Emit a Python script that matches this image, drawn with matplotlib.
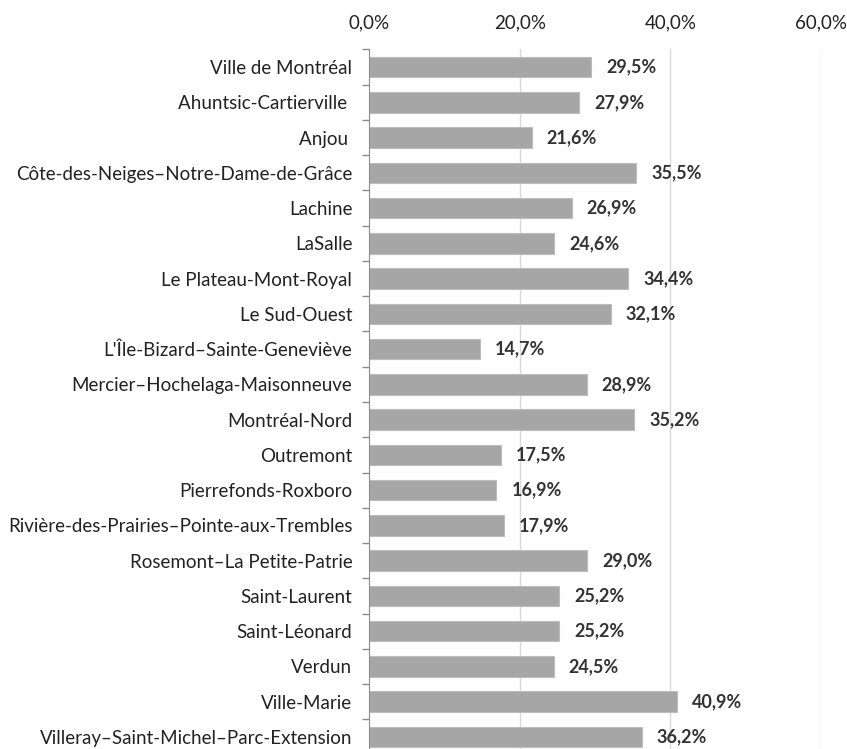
import matplotlib
matplotlib.use("Agg")
import matplotlib.pyplot as plt
from matplotlib.ticker import FuncFormatter, FixedLocator

# donnees
arrondissements = [
    "Ville de Montréal", "Ahuntsic-Cartierville ", "Anjou ",
    "Côte-des-Neiges–Notre-Dame-de-Grâce", "Lachine", "LaSalle",
    "Le Plateau-Mont-Royal", "Le Sud-Ouest", "L'Île-Bizard–Sainte-Geneviève",
    "Mercier–Hochelaga-Maisonneuve", "Montréal-Nord", "Outremont",
    "Pierrefonds-Roxboro", "Rivière-des-Prairies–Pointe-aux-Trembles",
    "Rosemont–La Petite-Patrie", "Saint-Laurent", "Saint-Léonard", "Verdun",
    "Ville-Marie", "Villeray–Saint-Michel–Parc-Extension",
]
pourcentages = [29.5, 27.9, 21.6, 35.5, 26.9, 24.6, 34.4, 32.1, 14.7, 28.9,
                35.2, 17.5, 16.9, 17.9, 29.0, 25.2, 25.2, 24.5, 40.9, 36.2]
graduations = [0, 20, 40, 60]

plt.rcParams['font.family'] = ['Lato', 'DejaVu Sans']

fig = plt.figure(figsize=(8.47, 7.49), dpi=100)
ax = fig.add_axes([369 / 847, -5.6 / 749, (821 - 369) / 847, (749 - 49.4 + 5.6) / 749])

n = len(arrondissements)
y = list(range(n))
ax.barh(y, pourcentages, height=0.58, color='#a6a6a6', edgecolor='#bdbdbd',
        linewidth=0.8, zorder=2)

for yi, v in zip(y, pourcentages):
    ax.text(v + 2.0, yi, f"{v:.1f}%".replace('.', ','), va='center', ha='left',
            fontsize=13, fontweight='bold', color='#333333')

ax.set_xlim(0, 60)
ax.set_ylim(n - 0.5, -0.5)
ax.xaxis.tick_top()
ax.set_xticks(graduations)
ax.xaxis.set_major_formatter(FuncFormatter(lambda x, p: f"{x:.1f}%".replace('.', ',')))
ax.tick_params(axis='x', length=0, pad=13, labelsize=13.5, colors='#222222')

ax.set_yticks(y)
ax.set_yticklabels(arrondissements)
ax.tick_params(axis='y', which='major', length=0, pad=12, labelsize=13.5, colors='#222222')
ax.yaxis.set_minor_locator(FixedLocator([i - 0.5 for i in range(n + 1)]))
ax.tick_params(axis='y', which='minor', length=5, color='#8c8c8c', width=1)

for g in graduations[1:]:
    ax.axvline(g, color='#d9d9d9', linewidth=1, zorder=1)

for s in ['top', 'right', 'bottom']:
    ax.spines[s].set_visible(False)
ax.spines['left'].set_color('#8c8c8c')

fig.savefig("out.png", dpi=100)
